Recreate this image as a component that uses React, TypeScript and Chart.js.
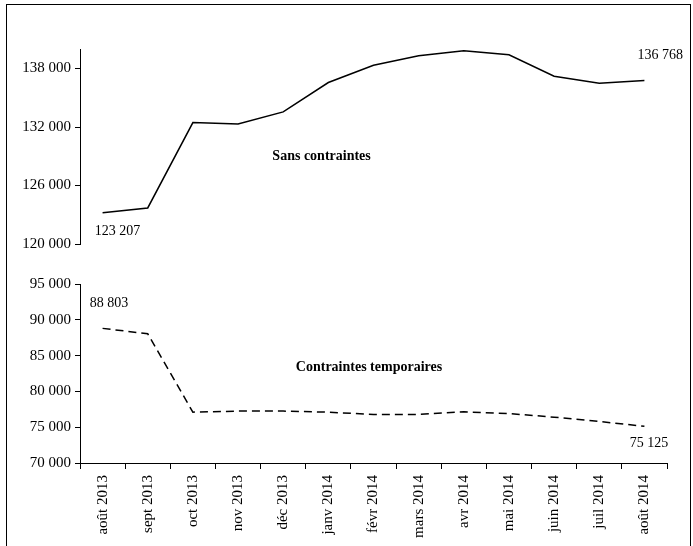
import { useEffect, useRef } from 'react';
import { Chart, registerables, ChartConfiguration, Plugin } from 'chart.js';

Chart.register(...registerables);

const months = ['août 2013', 'sept 2013', 'oct 2013', 'nov 2013', 'déc 2013', 'janv 2014', 'févr 2014', 'mars 2014', 'avr 2014', 'mai 2014', 'juin 2014', 'juil 2014', 'août 2014'];
const sansContraintes = [123207, 123700, 132450, 132300, 133550, 136560, 138340, 139300, 139820, 139400, 137200, 136500, 136768];
const contraintesTemporaires = [88803, 88050, 77100, 77250, 77250, 77100, 76780, 76780, 77150, 76900, 76400, 75800, 75125];
const topTicks = [120000, 126000, 132000, 138000];
const bottomTicks = [70000, 75000, 80000, 85000, 90000, 95000];

// annotation text: [text, category index, value, bold]
type Note = [string, number, number, boolean];
const topNotes: Note[] = [
  ['123 207', 0.33, 121300, false],
  ['136 768', 12.35, 139400, false],
  ['Sans contraintes', 4.85, 128950, true],
];
const bottomNotes: Note[] = [
  ['88 803', 0.14, 92300, false],
  ['75 125', 12.1, 72700, false],
  ['Contraintes temporaires', 5.9, 83300, true],
];

const FONT = "'Liberation Serif', 'Times New Roman', serif";

const notesPlugin = (notes: Note[]): Plugin<'line'> => ({
  id: 'notes',
  afterDraw(chart) {
    const { ctx } = chart;
    const x = chart.scales.x;
    const y = chart.scales.y;
    const step = (x.right - x.left) / months.length;
    ctx.save();
    ctx.fillStyle = '#000';
    ctx.textAlign = 'center';
    ctx.textBaseline = 'middle';
    notes.forEach(([t, i, v, bold]) => {
      ctx.font = `${bold ? 'bold ' : ''}14px ${FONT}`;
      ctx.fillText(t, x.left + step * (i + 0.5), y.getPixelForValue(v));
    });
    ctx.restore();
  },
});

const yAxis = (min: number, max: number, ticks: number[]) => ({
  min,
  max,
  afterFit: (s: any) => { s.width = 73; },
  afterBuildTicks: (s: any) => { s.ticks = ticks.map((value) => ({ value })); },
  border: { color: '#000', width: 1 },
  grid: { drawOnChartArea: false, tickLength: 5, color: '#000' },
  ticks: {
    color: '#000',
    font: { family: FONT, size: 15 },
    padding: 4,
    callback: (v: any) => Number(v).toLocaleString('fr-FR').replace(/\s/g, ' '),
  },
});

function LineChart({ data, dashed, top, notes, showX, height, min, max, ticks }: any) {
  const canvasRef = useRef<HTMLCanvasElement | null>(null);
  useEffect(() => {
    if (!canvasRef.current) return;
    const config: ChartConfiguration<'line'> = {
      type: 'line',
      data: {
        labels: months,
        datasets: [{
          data,
          borderColor: '#000',
          borderWidth: 1.5,
          borderDash: dashed ? [8, 5] : [],
          pointRadius: 0,
          tension: 0,
          fill: false,
        }],
      },
      options: {
        animation: false,
        responsive: false,
        layout: { padding: { top, right: 23, bottom: showX ? 0 : 7, left: 0 } },
        plugins: { legend: { display: false }, tooltip: { enabled: false } },
        scales: {
          x: {
            display: showX,
            offset: true,
            afterFit: showX ? (s: any) => { s.height = 84; } : undefined,
            border: { color: '#000', width: 1 },
            grid: { drawOnChartArea: false, offset: true, tickLength: 6, color: '#000' },
            ticks: { color: '#000', minRotation: 90, maxRotation: 90, font: { family: FONT, size: 15 }, padding: 6 },
          },
          y: yAxis(min, max, ticks) as any,
        },
      },
      plugins: [notesPlugin(notes)],
    };
    const chart = new Chart(canvasRef.current, config);
    return () => chart.destroy();
  }, []);
  return <canvas ref={canvasRef} width={683} height={height} style={{ display: 'block', width: 683, height }} />;
}

export default function App() {
  return (
    <div style={{ position: 'absolute', left: 6, top: 4, width: 683, height: 560, borderLeft: '1.5px solid #000', borderTop: '1.5px solid #000', borderRight: '1.5px solid #000', background: '#fff' }}>
      <LineChart data={sansContraintes} dashed={false} top={44} notes={topNotes} showX={false} height={252} min={120000} max={140000} ticks={topTicks} />
      <LineChart data={contraintesTemporaires} dashed={true} top={27} notes={bottomNotes} showX={true} height={290} min={70000} max={95000} ticks={bottomTicks} />
    </div>
  );
}
